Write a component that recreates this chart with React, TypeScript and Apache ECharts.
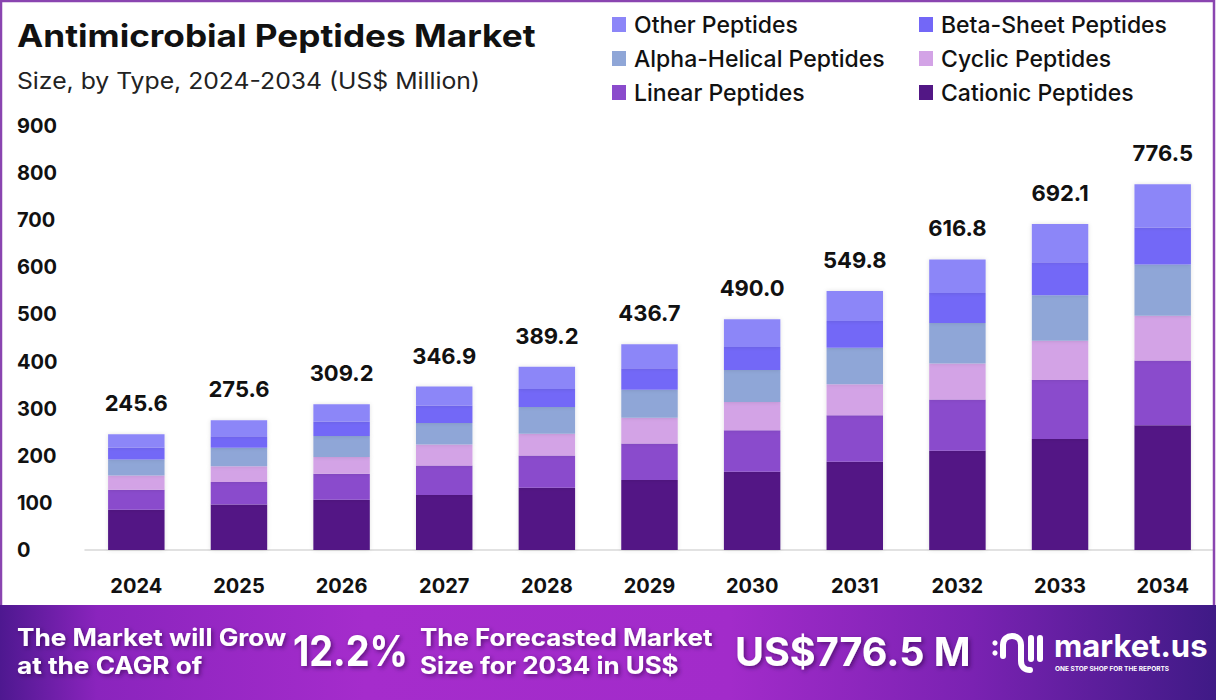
import React, { useEffect, useRef } from "react";
import * as echarts from "echarts";

const years = ["2024", "2025", "2026", "2027", "2028", "2029", "2030", "2031", "2032", "2033", "2034"];
const cationic = [85.3, 96.6, 106.4, 116.5, 132.0, 148.6, 166.3, 187.4, 210.6, 235.7, 265.0];
const linear = [42.7, 47.8, 55.3, 63.0, 68.7, 77.2, 87.9, 98.8, 108.6, 125.0, 137.0];
const cyclic = [30.1, 33.3, 35.5, 44.5, 45.9, 55.1, 60.1, 65.8, 76.5, 83.6, 95.0];
const alphaHelical = [34.1, 39.2, 44.7, 45.5, 57.2, 59.2, 68.0, 77.2, 86.4, 96.4, 109.0];
const betaSheet = [25.6, 24.7, 31.1, 37.0, 38.0, 45.9, 48.7, 57.1, 63.6, 70.0, 78.5];
const other = [27.8, 34.0, 36.2, 40.4, 47.4, 50.7, 59.0, 63.5, 71.1, 81.4, 92.0];
const totals = [245.6, 275.6, 309.2, 346.9, 389.2, 436.7, 490.0, 549.8, 616.8, 692.1, 776.5];

const FONT = "Inter, 'Noto Sans', sans-serif";

let registered = false;
function registerLogo() {
  if (registered) return;
  registered = true;
  const Logo = echarts.graphic.extendPath(
    "M 11 24 L 11 13 C 11 1 29 1 29 13 L 29 29 C 29 35 33 38 38 38 M 39 6 L 39 27 M 48 6 L 48 27",
    {}
  );
  echarts.graphic.registerShape("mlogo", Logo);
}

export default function App() {
  const ref = useRef<HTMLDivElement>(null);
  useEffect(() => {
    if (!ref.current) return;
    registerLogo();
    const chart = echarts.init(ref.current, undefined, { renderer: "svg" });
    const mk = (name: string, data: number[], color: string, top = false) => ({
      name,
      type: "bar",
      stack: "total",
      data,
      barWidth: "55%",
      itemStyle: { color, shadowBlur: 4, shadowColor: "rgba(0,0,0,0.12)" },
      label: top
        ? {
            show: true,
            position: "top",
            distance: 20,
            formatter: (p: any) => totals[p.dataIndex].toFixed(1),
            fontFamily: FONT,
            fontSize: 22,
            fontWeight: "bold",
            color: "#111",
          }
        : { show: false },
    });
    const text = (
      t: string,
      x: number,
      y: number,
      size: number,
      scaleX: number,
      fill: string,
      weight: string,
      shadow: boolean
    ) => ({
      type: "text",
      x,
      y,
      scaleX,
      style: {
        text: t,
        fill,
        font: `${weight} ${size}px ${FONT}`,
        textVerticalAlign: "middle",
        ...(shadow
          ? {
              textShadowColor: "rgba(40,0,60,0.55)",
              textShadowBlur: 4,
              textShadowOffsetX: 2,
              textShadowOffsetY: 2,
            }
          : {}),
      },
      z: 10,
    });
    const legendBase = {
      orient: "vertical",
      top: 8,
      itemWidth: 14,
      itemHeight: 15,
      itemGap: 11,
      icon: "rect",
      textStyle: { fontFamily: FONT, fontSize: 23, fontWeight: 500, color: "#111", padding: [0, 0, 0, 3] },
    };
    chart.setOption({
      animation: false,
      backgroundColor: "#fff",
      legend: [
        { ...legendBase, left: 607, data: ["Other Peptides", "Alpha-Helical Peptides", "Linear Peptides"] },
        { ...legendBase, left: 914, data: ["Beta-Sheet Peptides", "Cyclic Peptides", "Cationic Peptides"] },
      ],
      grid: { left: 85, right: 2, top: 126, bottom: 150 },
      xAxis: {
        type: "category",
        data: years,
        axisLine: { lineStyle: { color: "#d8d8d8", width: 1.5 } },
        axisTick: { show: false },
        axisLabel: { fontFamily: FONT, fontSize: 20, fontWeight: "bold", color: "#111", margin: 26 },
      },
      yAxis: {
        type: "value",
        min: 0,
        max: 900,
        interval: 100,
        axisLine: { show: false },
        axisTick: { show: false },
        splitLine: { show: false },
        axisLabel: { fontFamily: FONT, fontSize: 20, fontWeight: "bold", color: "#111", align: "left", margin: 68 },
      },
      series: [
        mk("Cationic Peptides", cationic, "#521785"),
        mk("Linear Peptides", linear, "#8a4bcc"),
        mk("Cyclic Peptides", cyclic, "#d3a3e6"),
        mk("Alpha-Helical Peptides", alphaHelical, "#8fa6d7"),
        mk("Beta-Sheet Peptides", betaSheet, "#7367f7"),
        mk("Other Peptides", other, "#8c86f8", true),
      ],
      graphic: [
        {
          type: "rect",
          shape: { x: 1, y: 1, width: 1213, height: 640 },
          style: { fill: "none", stroke: "#8a45b0", lineWidth: 2.5 },
          z: 1,
          silent: true,
        },
        text("Antimicrobial Peptides Market", 17, 36, 31, 1.135, "#111", "bold", false),
        text("Size, by Type, 2024-2034 (US$ Million)", 17, 81, 22.5, 1.1, "#222", "normal", false),
        {
          type: "rect",
          shape: { x: 0, y: 605, width: 1216, height: 95 },
          style: {
            fill: new echarts.graphic.LinearGradient(0, 0, 1, 0, [
              { offset: 0, color: "#4e1890" },
              { offset: 0.08, color: "#8a24bd" },
              { offset: 0.3, color: "#a52ccc" },
              { offset: 0.6, color: "#a22bca" },
              { offset: 0.8, color: "#7a22b2" },
              { offset: 1, color: "#3f1a86" },
            ]),
          },
          z: 5,
        },
        text("The Market will Grow", 17, 637, 24, 1.09, "#fff", "bold", true),
        text("at the CAGR of", 17, 665, 24, 1.09, "#fff", "bold", true),
        text("12.2%", 293, 651, 42, 0.9, "#fff", "bold", true),
        text("The Forecasted Market", 420, 637, 24, 1.08, "#fff", "bold", true),
        text("Size for 2034 in US$", 420, 665, 24, 1.08, "#fff", "bold", true),
        text("US$776.5 M", 735, 652, 39.5, 1.0, "#fff", "bold", true),
        {
          type: "circle",
          shape: { cx: 995, cy: 643, r: 2.6 },
          style: { fill: "#fff" },
          z: 10,
        },
        {
          type: "circle",
          shape: { cx: 995, cy: 653, r: 2.6 },
          style: { fill: "#fff" },
          z: 10,
        },
        {
          type: "mlogo",
          x: 992,
          y: 632,
          style: { fill: "none", stroke: "#fff", lineWidth: 6, lineCap: "round" },
          z: 10,
        },
        text("market.us", 1054, 645, 31, 1.0, "#fff", "bold", false),
        text("ONE STOP SHOP FOR THE REPORTS", 1055, 669, 6.5, 1.0, "#fff", "bold", false),
      ],
    });
    return () => chart.dispose();
  }, []);
  return (
    <div
      ref={ref}
      style={{ position: "fixed", left: 0, top: 0, width: 1216, height: 700 }}
    />
  );
}
